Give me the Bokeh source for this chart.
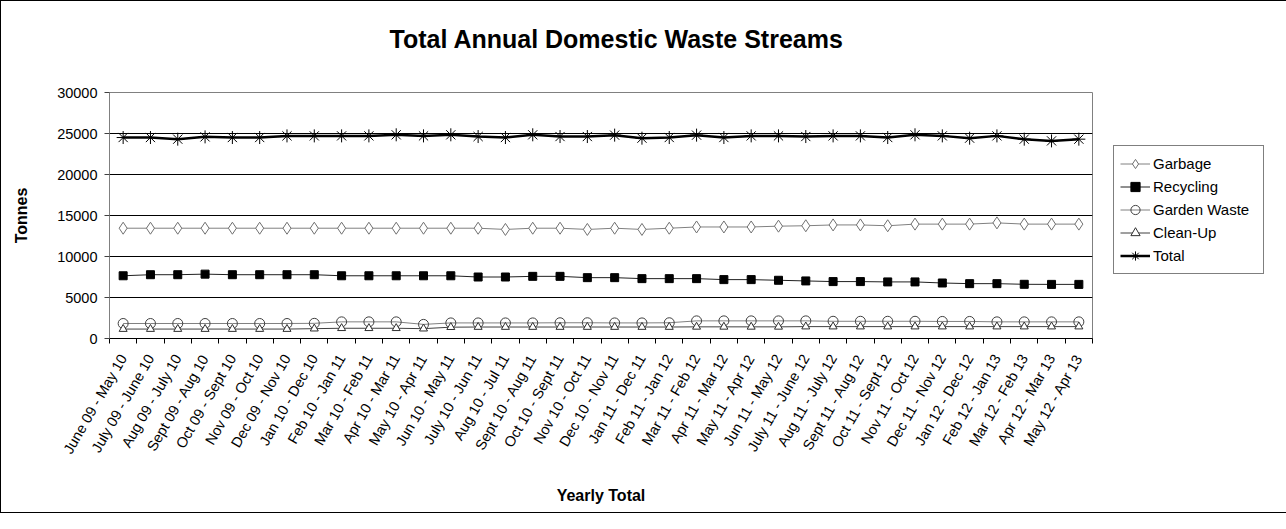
import math
from bokeh.plotting import figure
from bokeh.models import Range1d, FixedTicker, NumeralTickFormatter, Legend, LegendItem
from bokeh.embed import file_html
from bokeh.resources import INLINE

categories = [
    "June 09 - May 10", "July 09 - June 10", "Aug 09 - July 10", "Sept 09 - Aug 10",
    "Oct 09 - Sept 10", "Nov 09 - Oct 10", "Dec 09 - Nov 10", "Jan 10 - Dec 10",
    "Feb 10 - Jan 11", "Mar 10 - Feb 11", "Apr 10 - Mar 11", "May 10 - Apr 11",
    "Jun 10 - May 11", "July 10 - Jun 11", "Aug 10 - Jul 11", "Sept 10 - Aug 11",
    "Oct 10 - Sept 11", "Nov 10 - Oct 11", "Dec 10 - Nov 11", "Jan 11 - Dec 11",
    "Feb 11 - Jan 12", "Mar 11 - Feb 12", "Apr 11 - Mar 12", "May 11 - Apr 12",
    "Jun 11 - May 12", "July 11 - June 12", "Aug 11 - July 12", "Sept 11 - Aug 12",
    "Oct 11 - Sept 12", "Nov 11 - Oct 12", "Dec 11 - Nov 12", "Jan 12 - Dec 12",
    "Feb 12 - Jan 13", "Mar 12 - Feb 13", "Apr 12 - Mar 13", "May 12 - Apr 13",
]

garbage = [13450, 13450, 13450, 13450, 13450, 13450, 13450, 13450, 13450, 13450, 13450,
           13450, 13450, 13450, 13300, 13450, 13450, 13300, 13450, 13300, 13450, 13600,
           13600, 13600, 13700, 13750, 13850, 13850, 13750, 13950, 13950, 13950, 14100,
           13950, 13950, 13950]
recycling = [7650, 7780, 7780, 7850, 7780, 7780, 7780, 7780, 7650, 7650, 7650,
             7650, 7650, 7500, 7500, 7580, 7580, 7420, 7420, 7300, 7300, 7300,
             7180, 7180, 7100, 7020, 6940, 6940, 6900, 6900, 6770, 6690, 6690,
             6610, 6600, 6600]
garden_waste = [1830, 1830, 1830, 1830, 1830, 1830, 1830, 1850, 2030, 2030, 2030,
                1720, 1900, 1900, 1900, 1900, 1920, 1920, 1900, 1900, 1920, 2150,
                2150, 2150, 2150, 2150, 2100, 2100, 2100, 2100, 2080, 2080, 2030,
                2030, 2030, 2030]
clean_up = [1150, 1150, 1150, 1150, 1150, 1150, 1150, 1200, 1250, 1250, 1250,
            1200, 1380, 1400, 1400, 1400, 1400, 1400, 1400, 1400, 1400, 1420,
            1420, 1420, 1420, 1450, 1450, 1450, 1450, 1450, 1450, 1450, 1450,
            1450, 1450, 1450]
total = [24510, 24510, 24310, 24590, 24510, 24510, 24710, 24710, 24710, 24710, 24840,
         24710, 24840, 24630, 24510, 24840, 24630, 24630, 24800, 24430, 24510, 24800,
         24510, 24710, 24710, 24630, 24710, 24710, 24510, 24840, 24710, 24430, 24710,
         24310, 24100, 24310]

y_ticks = [0, 5000, 10000, 15000, 20000, 25000, 30000]

FONT = "Liberation Sans"
n = len(categories)
xs = [i + 0.5 for i in range(n)]

p = figure(frame_width=983, frame_height=246, output_backend="svg", toolbar_location=None,
           x_range=Range1d(0, n), y_range=Range1d(y_ticks[0], y_ticks[-1]),
           min_border_left=108, min_border_right=177, min_border_top=91,
           min_border_bottom=174)
p.styles = {"border": "1px solid #000000"}
p.background_fill_color = "white"
p.border_fill_color = "white"
p.outline_line_color = "#808080"
p.outline_line_width = 1

p.title.text = "Total Annual Domestic Waste Streams\n"
p.title.text_font = FONT
p.title.text_font_size = "25px"
p.title.text_font_style = "bold"
p.title.text_color = "black"
p.title.align = "left"
p.title.offset = 280
p.title.standoff = 24

# grid
p.xgrid.grid_line_color = None
p.ygrid.grid_line_color = "black"
p.ygrid.grid_line_width = 1

# y axis
ya = p.yaxis[0]
ya.ticker = FixedTicker(ticks=y_ticks)
ya.formatter = NumeralTickFormatter(format="0")
ya.axis_line_color = "#808080"
ya.major_tick_line_color = "#404040"
ya.major_tick_out = 5
ya.major_tick_in = 0
ya.minor_tick_line_color = None
ya.major_label_text_font = FONT
ya.major_label_text_font_size = "14.5px"
ya.major_label_text_color = "black"
ya.major_label_standoff = 7
ya.axis_label = "Tonnes"
ya.axis_label_text_font = FONT
ya.axis_label_text_font_size = "16px"
ya.axis_label_text_font_style = "bold"
ya.axis_label_text_color = "black"
ya.axis_label_standoff = 24

# x axis
xa = p.xaxis[0]
xa.ticker = FixedTicker(ticks=xs, minor_ticks=list(range(n + 1)))
xa.major_label_overrides = {x: c for x, c in zip(xs, categories)}
xa.major_label_orientation = math.radians(60)
xa.axis_line_color = "black"
xa.major_tick_line_color = None
xa.major_tick_out = 0
xa.major_tick_in = 0
xa.minor_tick_line_color = "black"
xa.minor_tick_out = 5
xa.minor_tick_in = 0
xa.major_label_text_font = FONT
xa.major_label_text_font_size = "14.5px"
xa.major_label_text_color = "black"
xa.major_label_standoff = 12
xa.axis_label = "Yearly Total"
xa.axis_label_text_font = FONT
xa.axis_label_text_font_size = "16px"
xa.axis_label_text_font_style = "bold"
xa.axis_label_text_color = "black"
xa.axis_label_standoff = 23

# series
g_line = p.line(xs, garbage, line_color="#808080", line_width=1)
g_mk = p.scatter(xs, garbage, marker="diamond", size=12, fill_color="white",
                 line_color="#707070", line_width=1)

r_line = p.line(xs, recycling, line_color="#202020", line_width=1)
r_mk = p.scatter(xs, recycling, marker="square", size=8, fill_color="black",
                 line_color="black", line_width=1)

gw_line = p.line(xs, garden_waste, line_color="#808080", line_width=1)
gw_mk = p.scatter(xs, garden_waste, marker="circle", size=10, fill_color=None,
                  line_color="#404040", line_width=1)

c_line = p.line(xs, clean_up, line_color="#404040", line_width=1)
c_mk = p.scatter(xs, clean_up, marker="triangle", size=8, fill_color="white",
                 line_color="#303030", line_width=1)

t_line = p.line(xs, total, line_color="black", line_width=2.5)
t_mk = p.scatter(xs, total, marker="asterisk", size=13, line_color="black",
                 line_width=1)

legend = Legend(items=[
    LegendItem(label="Garbage", renderers=[g_line, g_mk]),
    LegendItem(label="Recycling", renderers=[r_line, r_mk]),
    LegendItem(label="Garden Waste", renderers=[gw_line, gw_mk]),
    LegendItem(label="Clean-Up", renderers=[c_line, c_mk]),
    LegendItem(label="Total", renderers=[t_line, t_mk]),
], location=(21, 64))
legend.border_line_color = "black"
legend.border_line_width = 1
legend.background_fill_color = "white"
legend.background_fill_alpha = 1
legend.label_text_font = FONT
legend.label_text_font_size = "15px"
legend.label_text_color = "black"
legend.glyph_width = 30
legend.glyph_height = 23
legend.label_height = 23
legend.label_width = 104
legend.label_standoff = 3
legend.spacing = 0
legend.padding = 6
legend.margin = 0
p.add_layout(legend, "right")

open("out.html", "w").write(file_html(p, INLINE))
